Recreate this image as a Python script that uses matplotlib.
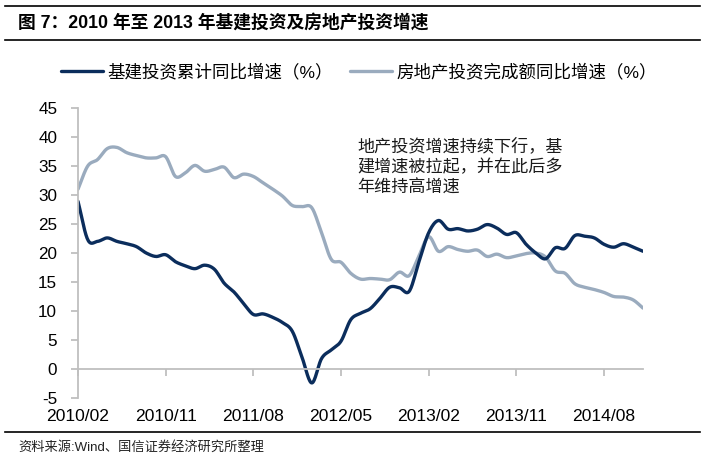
import numpy as np
import matplotlib
matplotlib.use('Agg')
import matplotlib.pyplot as plt
from matplotlib.lines import Line2D

# ---- data (monthly, 2010/02 .. 2014/12) ----
infra = [28.9, 22.3, 22.0, 22.6, 22.0, 21.6, 21.1, 20.0, 19.4, 19.7,
         18.5, 17.8, 17.3, 17.9, 17.2, 14.8, 13.3, 11.3, 9.4, 9.5,
         8.9, 8.0, 6.5, 2.0, -2.4, 1.8, 3.3, 4.8, 8.5, 9.6,
         10.4, 12.2, 14.1, 14.0, 13.4, 18.5, 23.5, 25.6, 24.1, 24.2,
         23.8, 24.1, 24.9, 24.3, 23.2, 23.5, 21.5, 20.0, 19.0, 20.9,
         20.8, 23.0, 22.9, 22.6, 21.5, 21.0, 21.6, 21.0, 20.3]
realestate = [31.0, 35.0, 36.1, 38.0, 38.2, 37.3, 36.8, 36.4, 36.4, 36.6,
              33.2, 33.8, 35.1, 34.1, 34.4, 34.8, 33.0, 33.6, 33.2, 32.1,
              31.0, 29.8, 28.2, 28.0, 27.8, 23.5, 18.9, 18.4, 16.5, 15.5,
              15.6, 15.5, 15.4, 16.7, 16.1, 19.5, 22.8, 20.3, 21.1, 20.6,
              20.3, 20.5, 19.4, 19.8, 19.2, 19.5, 19.9, 20.0, 19.3, 16.9,
              16.5, 14.7, 14.1, 13.7, 13.2, 12.5, 12.4, 11.9, 10.5]
tick_labels = ['2010/02', '2010/11', '2011/08', '2012/05', '2013/02', '2013/11', '2014/08']
series_names = ['基建投资累计同比增速（%）', '房地产投资完成额同比增速（%）']
title = '图 7：2010 年至 2013 年基建投资及房地产投资增速'
note = '地产投资增速持续下行，基\n建增速被拉起，并在此后多\n年维持高增速'
source = '资料来源:Wind、国信证券经济研究所整理'

CJK = ['Liberation Sans', 'Noto Sans CJK SC', 'DejaVu Sans']
plt.rcParams['font.family'] = CJK


def smooth(vals, n=16):
    y = np.asarray(vals, dtype=float)
    x = np.arange(len(y), dtype=float)
    yp = np.concatenate([[2 * y[0] - y[1]], y, [2 * y[-1] - y[-2]]])
    xs, ys = [], []
    t = np.linspace(0, 1, n, endpoint=False)
    for i in range(len(y) - 1):
        p0, p1, p2, p3 = yp[i], yp[i + 1], yp[i + 2], yp[i + 3]
        seg = 0.5 * ((2 * p1) + (-p0 + p2) * t + (2 * p0 - 5 * p1 + 4 * p2 - p3) * t ** 2
                     + (-p0 + 3 * p1 - 3 * p2 + p3) * t ** 3)
        xs.append(x[i] + t)
        ys.append(seg)
    xs.append([x[-1]])
    ys.append([y[-1]])
    return np.concatenate(xs), np.concatenate(ys)


W, H = 705, 466
fig = plt.figure(figsize=(W / 100, H / 100), dpi=100)
ax = fig.add_axes([78 / W, 1 - 398 / H, 565 / W, 290 / H])

c_dark = '#0B2D5C'
c_light = '#9AABBE'
axis_c = '#BFBFBF'

xs, ys = smooth(realestate)
l2, = ax.plot(xs, ys, color=c_light, lw=2.4, solid_capstyle='round', label=series_names[1])
xs, ys = smooth(infra)
l1, = ax.plot(xs, ys, color=c_dark, lw=2.4, solid_capstyle='round', label=series_names[0])

n = len(infra)
ax.set_xlim(0, n - 1)
ax.set_ylim(-5, 45)
ax.set_yticks(np.arange(-5, 46, 5))
ax.set_yticklabels([str(v) for v in range(-5, 46, 5)])

for s in ['top', 'right']:
    ax.spines[s].set_visible(False)
ax.spines['left'].set_color(axis_c)
ax.spines['left'].set_linewidth(1.3)
ax.spines['bottom'].set_position(('data', 0))
ax.spines['bottom'].set_color(axis_c)
ax.spines['bottom'].set_linewidth(1.3)

tick_pos = np.arange(0, n, 9)[:len(tick_labels)]
ax.set_xticks(tick_pos)
ax.tick_params(axis='x', direction='out', length=5, width=1.3, color=axis_c, labelbottom=False)
ax.tick_params(axis='y', direction='out', length=5, width=1.3, color=axis_c,
               labelsize=12.3, pad=10)

sec = ax.secondary_xaxis(0)
sec.set_xticks(tick_pos)
sec.set_xticklabels(tick_labels)
sec.tick_params(length=0, labelsize=12.6, pad=8)
sec.spines['bottom'].set_visible(False)

leg = fig.legend(handles=[l1, l2], labels=series_names, loc='center left',
                 bbox_to_anchor=(61 / W, 1 - 72 / H), ncol=2, frameon=False,
                 fontsize=12.6, handlelength=2.4, handletextpad=0.25,
                 columnspacing=1.0, borderpad=0, borderaxespad=0)

fig.text(357 / W, 1 - 137 / H, note, fontsize=12.3, va='top', ha='left',
         color='#1A1A1A', linespacing=1.35)

fig.text(18 / W, 1 - 23 / H, title, fontsize=12.8, fontweight='bold', va='center', ha='left')
fig.text(18 / W, 1 - 447 / H, source, fontsize=9.5, va='center', ha='left', color='#222222')

for yy in (6, 40, 432):
    fig.add_artist(Line2D([5 / W, 700 / W], [1 - yy / H, 1 - yy / H], color='black', lw=1.2))

fig.savefig('out.png', dpi=100)
